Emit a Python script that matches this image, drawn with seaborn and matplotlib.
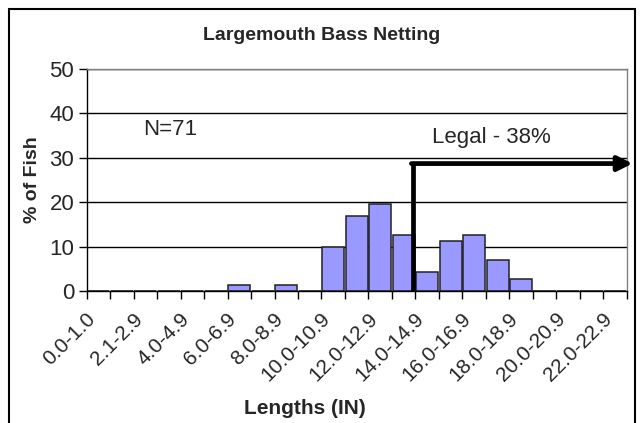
"""Largemouth bass netting length histogram, redrawn with seaborn."""

import numpy as np
import matplotlib
matplotlib.use("Agg")
import matplotlib.pyplot as plt
from matplotlib.patches import Rectangle
import seaborn as sns

# length classes (inches); only every other one is labelled on the axis
categories = ["0.0-1.0", "1.0-1.9", "2.1-2.9", "3.0-3.9", "4.0-4.9", "5.0-5.9",
              "6.0-6.9", "7.0-7.9", "8.0-8.9", "9.0-9.9", "10.0-10.9", "11.0-11.9",
              "12.0-12.9", "13.0-13.9", "14.0-14.9", "15.0-15.9", "16.0-16.9",
              "17.0-17.9", "18.0-18.9", "19.0-19.9", "20.0-20.9", "21.0-21.9",
              "22.0-22.9"]
# percent of fish per class (N=71)
percent = [0, 0, 0, 0, 0, 0, 1.4, 0, 1.4, 0, 9.9, 16.9,
           19.7, 12.7, 4.2, 11.3, 12.7, 7.0, 2.8, 0, 0, 0, 0]
yticks = [0, 10, 20, 30, 40, 50]

sns.set_style("white")
plt.rcParams["font.family"] = ["Liberation Sans", "DejaVu Sans"]

fig = plt.figure(figsize=(6.41, 4.23), dpi=100)
ax = fig.add_axes([86.7 / 641, 1 - 291 / 423, 540 / 641, 222 / 423])

sns.barplot(x=categories, y=percent, order=categories, color="#9999FF",
            saturation=1, width=0.94, edgecolor="#222222", linewidth=1.1, ax=ax)

ax.set_xlim(-0.5, len(categories) - 0.5)
ax.set_ylim(0, 50)
ax.set_yticks(yticks)
ax.yaxis.grid(True, color="black", lw=1)
ax.set_axisbelow(True)

# labels just left of the category centres, tick marks at the boundaries
ax.set_xticks(np.arange(len(categories)) - 0.25)
ax.set_xticklabels([c if i % 2 == 0 else "" for i, c in enumerate(categories)],
                   rotation=45, ha="right", va="center", rotation_mode="anchor",
                   fontsize=15)
ax.set_xticks(np.arange(-0.5, len(categories), 1), minor=True)
ax.tick_params(axis="x", which="major", length=0, pad=18)
ax.tick_params(axis="x", which="minor", length=6, width=1, color="black",
               direction="out", bottom=True)
ax.tick_params(axis="y", length=6, width=1, color="black", direction="out",
               left=True, labelsize=16, pad=3)
ax.set_xlabel("")
ax.set_ylabel("% of Fish", fontsize=14, fontweight="bold", labelpad=6)

for s in ["top", "right"]:
    ax.spines[s].set_color("#808080")
for s in ["left", "bottom"]:
    ax.spines[s].set_color("black")
for s in ax.spines.values():
    s.set_linewidth(1)

# legal size marker
ax.plot([13.4, 13.4], [0, 28.7], color="black", lw=3.4, solid_capstyle="butt",
        clip_on=False, zorder=5)
ax.annotate("", xy=(22.75, 28.7), xytext=(13.33, 28.7),
            arrowprops=dict(arrowstyle="-|>", lw=3.4, color="black",
                            mutation_scale=22, shrinkA=0, shrinkB=0),
            annotation_clip=False, zorder=5)

ax.text(1.9, 35.1, "N=71", fontsize=16, va="baseline", ha="left")
ax.text(14.19, 33.3, "Legal - 38%", fontsize=16, va="baseline", ha="left")

fig.text(322 / 641, 1 - 35 / 423, "Largemouth Bass Netting", fontsize=14,
         fontweight="bold", ha="center", va="center")
fig.text(305 / 641, 1 - 408 / 423, "Lengths (IN)", fontsize=15,
         fontweight="bold", ha="center", va="center")

fig.patches.append(Rectangle((9 / 641, -0.1), 626 / 641, 1 - 9 / 423 + 0.1,
                             transform=fig.transFigure, fill=False,
                             lw=1.5, ec="black"))

fig.savefig("out.png", dpi=100)
